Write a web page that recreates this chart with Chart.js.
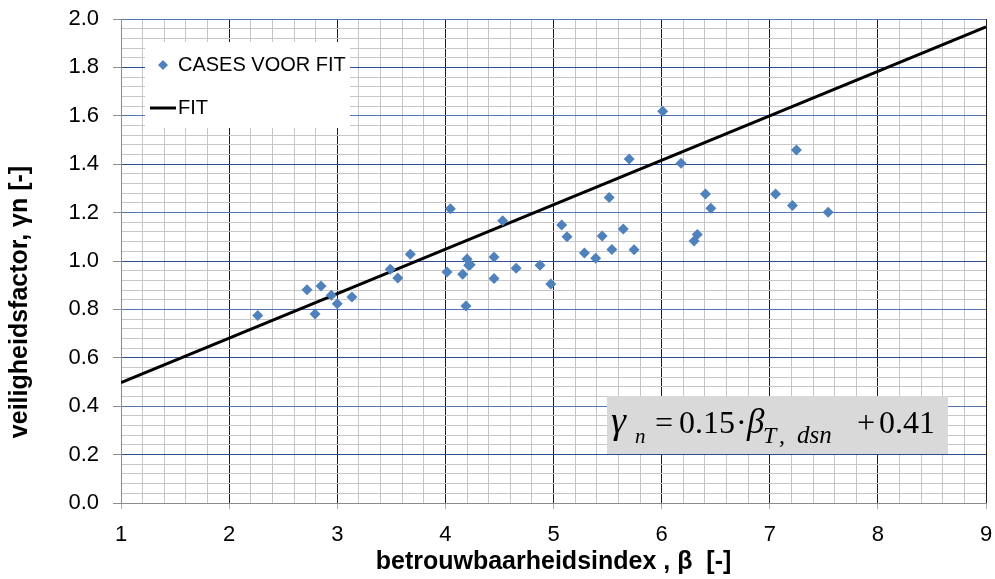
<!DOCTYPE html>
<html>
<head>
<meta charset="utf-8">
<script src="https://cdn.jsdelivr.net/npm/chart.js@4/dist/chart.umd.min.js"></script>
<style>
  html, body { margin: 0; padding: 0; background: #ffffff; }
  #wrap { width: 995px; height: 579px; }
</style>
</head>
<body>
<div id="wrap"><canvas id="c" width="995" height="579"></canvas></div>
<script>
// ---------------- data ----------------
const caseBeta  = [2.265, 2.72, 2.795, 2.85, 2.945, 3.0, 3.136, 3.49, 3.56, 3.676,
                   4.015, 4.046, 4.16, 4.19, 4.20, 4.215, 4.23, 4.45, 4.45, 4.53,
                   4.655, 4.875, 4.975, 5.076, 5.125, 5.286, 5.39, 5.45, 5.515, 5.54,
                   5.645, 5.70, 5.745, 6.01, 6.18, 6.30, 6.33, 6.405, 6.455, 7.054,
                   7.21, 7.247, 7.54];
const caseGamma = [0.775, 0.881, 0.781, 0.897, 0.858, 0.823, 0.851, 0.966, 0.930, 1.028,
                   0.955, 1.216, 0.945, 0.814, 1.008, 0.982, 0.985, 1.017, 0.928, 1.166,
                   0.970, 0.982, 0.905, 1.149, 1.100, 1.033, 1.011, 1.103, 1.262, 1.048,
                   1.132, 1.422, 1.046, 1.619, 1.404, 1.083, 1.110, 1.277, 1.218, 1.277,
                   1.229, 1.459, 1.201];
const fitBeta  = [1, 9];
const fitGamma = [0.497, 1.967];

const seriesNames = ['CASES VOOR FIT', 'FIT'];
const xTickLabels = ['1', '2', '3', '4', '5', '6', '7', '8', '9'];
const yTickLabels = ['0.0', '0.2', '0.4', '0.6', '0.8', '1.0', '1.2', '1.4', '1.6', '1.8', '2.0'];
const xTitle = 'betrouwbaarheidsindex , \u03B2  [-]';
const yTitle = 'veiligheidsfactor, \u03B3n [-]';

// ---------------- styling ----------------
const SANS  = '"Liberation Sans", Arial, Helvetica, sans-serif';
const SERIF = '"Liberation Serif", "Times New Roman", serif';
const MARKER = '#4f81bd';
const AXIS_GREY = '#8c8c8c';
const MINOR_GREY = '#c6c6c6';

const X_MIN = 1, X_MAX = 9, X_STEP = 0.2, X_PER_LABEL = 5;
const Y_MIN = 0, Y_MAX = 2, Y_STEP = 0.04, Y_PER_LABEL = 5;

function gridValues(min, max, step) {
  const n = Math.round((max - min) / step);
  const out = [];
  for (let i = 0; i <= n; i++) out.push({ value: +(min + i * step).toFixed(4) });
  return out;
}

const casePoints = caseBeta.map((b, i) => ({ x: b, y: caseGamma[i] }));
const fitPoints  = fitBeta.map((b, i) => ({ x: b, y: fitGamma[i] }));

// legend, equation box and rotated y title
const decorations = {
  id: 'decorations',
  beforeDatasetsDraw(chart) {
    const { ctx, chartArea: a } = chart;
    const ds = chart.data.datasets;
    ctx.save();
    // legend box
    const lx = a.left + 24, ly = a.top + 23, lw = 205, lh = 86;
    ctx.fillStyle = '#ffffff';
    ctx.fillRect(lx, ly, lw, lh);
    // diamond marker
    const mx = lx + 18, my = ly + 23, r = 5;
    ctx.fillStyle = ds[0].backgroundColor;
    ctx.beginPath();
    ctx.moveTo(mx - r, my); ctx.lineTo(mx, my - r); ctx.lineTo(mx + r, my); ctx.lineTo(mx, my + r);
    ctx.closePath(); ctx.fill();
    ctx.fillStyle = '#000000';
    ctx.font = '20px ' + SANS;
    ctx.textBaseline = 'middle';
    ctx.textAlign = 'left';
    ctx.fillText(ds[0].label, lx + 33, my);
    // line sample
    ctx.strokeStyle = ds[1].borderColor;
    ctx.lineWidth = 3;
    ctx.beginPath();
    ctx.moveTo(lx + 5, ly + 66); ctx.lineTo(lx + 31, ly + 66);
    ctx.stroke();
    ctx.fillText(ds[1].label, lx + 33, ly + 66);

    // equation box
    const ex = a.right - 379, ey = a.bottom - 107, ew = 341, eh = 58;
    ctx.fillStyle = '#d9d9d9';
    ctx.fillRect(ex, ey, ew, eh);
    ctx.fillStyle = '#000000';
    ctx.textBaseline = 'alphabetic';
    const base = ey + 37, sub = ey + 47;
    const big = '32px ' + SERIF;
    const parts = [
      ['italic 38px ' + SERIF, '\u03B3', 4, base],
      ['italic 21px ' + SERIF, 'n', 28, sub],
      [big, '=', 48, base],
      [big, '0.15', 72, base],
      [big, '\u00B7', 129, base],
      ['italic 35px ' + SERIF, '\u03B2', 140, base],
      ['italic 24px ' + SERIF, 'T', 156, sub],
      ['italic 24px ' + SERIF, ',', 172, sub],
      ['italic 25px ' + SERIF, 'dsn', 190, sub],
      [big, '+', 250, base],
      [big, '0.41', 272, base]
    ];
    for (const [f, t, dx, y] of parts) { ctx.font = f; ctx.fillText(t, ex + dx, y); }

    // y axis title
    ctx.translate(a.left - 101, (a.top + a.bottom) / 2 + 41);
    ctx.rotate(-Math.PI / 2);
    ctx.font = 'bold 25px ' + SANS;
    ctx.textAlign = 'center';
    ctx.textBaseline = 'middle';
    ctx.fillText(yTitle, 0, 0);
    ctx.restore();
  }
};

new Chart(document.getElementById('c'), {
  type: 'scatter',
  data: {
    datasets: [
      {
        label: seriesNames[0],
        data: casePoints,
        pointStyle: 'rectRot',
        pointRadius: 5.5,
        pointHoverRadius: 5.5,
        backgroundColor: MARKER,
        borderColor: MARKER,
        borderWidth: 0,
        showLine: false,
        order: 1
      },
      {
        label: seriesNames[1],
        data: fitPoints,
        showLine: true,
        borderColor: '#000000',
        backgroundColor: '#000000',
        borderWidth: 3,
        pointRadius: 0,
        pointHoverRadius: 0,
        order: 2
      }
    ]
  },
  options: {
    responsive: false,
    animation: false,
    devicePixelRatio: 1,
    layout: { padding: { top: 19, right: 9, left: 0, bottom: 0 } },
    plugins: {
      legend: { display: false },
      tooltip: { enabled: false },
      title: { display: false }
    },
    scales: {
      x: {
        type: 'linear',
        min: X_MIN, max: X_MAX,
        afterBuildTicks(scale) { scale.ticks = gridValues(X_MIN, X_MAX, X_STEP); },
        afterFit(scale) { scale.height = 76; scale.paddingLeft = 0; scale.paddingRight = 0; },
        ticks: {
          autoSkip: false,
          maxRotation: 0, minRotation: 0,
          padding: 13,
          color: '#000000',
          font: { family: SANS, size: 22 },
          callback: (v, i) => (i % X_PER_LABEL === 0 ? xTickLabels[i / X_PER_LABEL] : '')
        },
        grid: {
          drawOnChartArea: true,
          drawTicks: true,
          tickLength: 6,
          lineWidth: 1,
          color: (c) => {
            if (c.index === 0) return AXIS_GREY;
            return c.index % X_PER_LABEL === 0 ? '#1e1e1e' : MINOR_GREY;
          },
          tickColor: (c) => (c.index % X_PER_LABEL === 0 ? '#b0b0b0' : 'rgba(0,0,0,0)')
        },
        border: { display: true, color: AXIS_GREY, width: 1 },
        title: {
          display: true,
          text: xTitle,
          color: '#000000',
          font: { family: SANS, size: 25, weight: 'bold' },
          padding: { top: 0, bottom: 2 }
        }
      },
      y: {
        type: 'linear',
        min: Y_MIN, max: Y_MAX,
        afterBuildTicks(scale) { scale.ticks = gridValues(Y_MIN, Y_MAX, Y_STEP); },
        afterFit(scale) { scale.width = 121; scale.paddingTop = 0; scale.paddingBottom = 0; },
        ticks: {
          autoSkip: false,
          padding: 14,
          color: '#000000',
          font: { family: SANS, size: 22 },
          callback: (v, i) => (i % Y_PER_LABEL === 0 ? yTickLabels[i / Y_PER_LABEL] : '')
        },
        grid: {
          drawOnChartArea: true,
          drawTicks: true,
          tickLength: 8,
          lineWidth: 1,
          color: (c) => {
            if (c.index === 0) return AXIS_GREY;
            if (c.index % Y_PER_LABEL !== 0) return MINOR_GREY;
            return (c.index / Y_PER_LABEL) % 2 === 1 ? '#2e4f8f' : '#5575b0';
          },
          tickColor: (c) => (c.index % Y_PER_LABEL === 0 ? AXIS_GREY : 'rgba(0,0,0,0)')
        },
        border: { display: true, color: AXIS_GREY, width: 1 },
        title: { display: false }
      }
    }
  },
  plugins: [decorations]
});
</script>
</body>
</html>
